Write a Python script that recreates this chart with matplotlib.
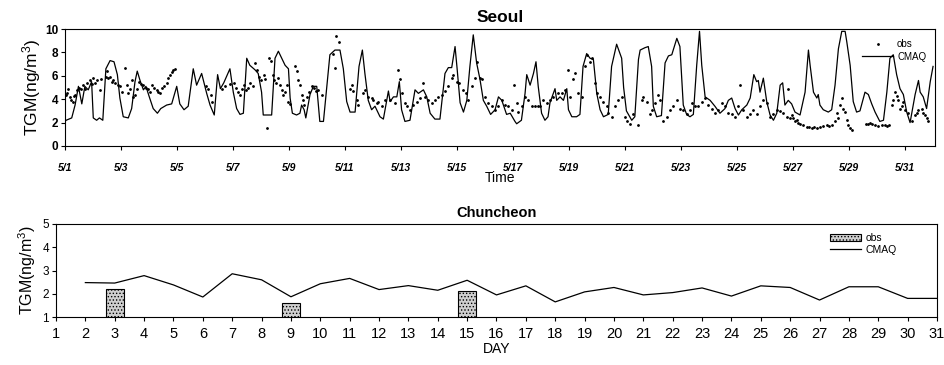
import matplotlib
matplotlib.use("Agg")
import matplotlib.pyplot as plt
from matplotlib.patches import Patch
from matplotlib.lines import Line2D

plt.rcParams['font.family'] = ['Liberation Sans', 'DejaVu Sans']
plt.rcParams['mathtext.default'] = 'regular'
plt.rcParams['hatch.linewidth'] = 0.6

# ---- Seoul (hourly), time in days after 5/1 00:00 ----
seoul_ticks = ['5/1', '5/3', '5/5', '5/7', '5/9', '5/11', '5/13', '5/15',
               '5/17', '5/19', '5/21', '5/23', '5/25', '5/27', '5/29', '5/31']

cmaq_day = [0.0, 0.04, 0.24, 0.36, 0.48, 0.6, 0.71, 0.83, 0.95, 1.01, 1.13, 1.23, 1.35, 1.46, 1.61,
            1.75, 1.87, 1.96, 2.08, 2.26, 2.38, 2.5, 2.58, 2.68, 2.8, 2.89, 3.01, 3.15, 3.3, 3.42,
            3.63, 3.81, 3.99, 4.1, 4.25, 4.4, 4.58, 4.7, 4.88, 5.06, 5.18, 5.33, 5.45, 5.55, 5.67,
            5.89, 6.01, 6.13, 6.25, 6.37, 6.49, 6.6, 6.79, 6.9, 7.02, 7.08, 7.38, 7.5, 7.62, 7.74,
            7.86, 7.98, 8.04, 8.12, 8.27, 8.39, 8.45, 8.54, 8.6, 8.75, 8.87, 8.99, 9.1, 9.23, 9.46,
            9.64, 9.82, 9.94, 10.06, 10.18, 10.36, 10.5, 10.62, 10.71, 10.83, 10.95, 11.07, 11.13,
            11.25, 11.37, 11.55, 11.61, 11.73, 11.85, 11.94, 12.02, 12.14, 12.32, 12.5, 12.62,
            12.8, 12.92, 13.04, 13.21, 13.39, 13.57, 13.69, 13.81, 13.93, 14.0, 14.11, 14.23,
            14.35, 14.46, 14.58, 14.7, 14.82, 14.94, 15.06, 15.2, 15.36, 15.48, 15.6, 15.77, 15.9,
            16.07, 16.13, 16.3, 16.43, 16.49, 16.61, 16.73, 16.82, 16.9, 17.02, 17.14, 17.25,
            17.32, 17.5, 17.56, 17.68, 17.8, 17.92, 17.98, 18.1, 18.27, 18.39, 18.5, 18.63,
            18.75, 18.87, 18.99, 19.11, 19.23, 19.4, 19.52, 19.7, 19.88, 19.95, 20.05, 20.12,
            20.24, 20.35, 20.48, 20.54, 20.71, 20.83, 20.95, 21.01, 21.13, 21.3, 21.43, 21.55,
            21.67, 21.85, 21.96, 22.08, 22.2, 22.32, 22.44, 22.56, 22.66, 22.74, 22.86, 23.04,
            23.21, 23.39, 23.57, 23.69, 23.81, 23.93, 24.05, 24.17, 24.35, 24.47, 24.6, 24.7,
            24.76, 24.82, 24.94, 25.06, 25.18, 25.3, 25.42, 25.54, 25.63, 25.71, 25.83, 25.95,
            26.07, 26.25, 26.43, 26.55, 26.61, 26.73, 26.85, 26.9, 26.96, 27.08, 27.26, 27.38,
            27.5, 27.62, 27.74, 27.86, 27.92, 28.04, 28.15, 28.27, 28.39, 28.57, 28.69, 28.81,
            28.93, 29.1, 29.23, 29.35, 29.46, 29.58, 29.7, 29.82, 29.94, 30.06, 30.18, 30.36,
            30.48, 30.54, 30.65, 30.77, 30.9, 31.0]
cmaq_val = [2.1, 2.2, 2.4, 3.5, 5.1, 3.6, 5.1, 4.8, 5.5, 2.4, 2.2, 2.4, 2.2, 6.6, 7.3,
            7.2, 6.1, 4.1, 2.5, 2.4, 3.2, 5.5, 6.4, 5.6, 4.8, 5.1, 4.2, 3.2, 2.8, 3.2,
            3.5, 3.6, 5.1, 3.6, 3.1, 3.4, 6.6, 5.2, 6.2, 4.5, 3.5, 2.65, 6.1, 4.9, 5.4,
            6.6, 4.6, 3.2, 2.7, 2.8, 7.5, 6.9, 6.5, 6.2, 4.6, 2.65, 2.65, 7.5, 8.1, 7.5,
            6.9, 6.6, 4.1, 2.8, 2.65, 2.8, 3.5, 3.1, 2.4, 4.4, 5.1, 5.1, 2.1, 2.1, 7.8,
            8.2, 8.2, 6.6, 3.8, 2.9, 2.9, 6.8, 8.2, 6.2, 3.9, 3.1, 3.4, 3.1,
            2.5, 2.3, 4.7, 3.8, 4.2, 4.2, 5.5, 3.1, 2.1, 2.2, 4.8, 4.5,
            4.8, 4.2, 2.8, 2.3, 2.3, 6.2, 6.7, 6.7, 8.5, 6.7, 3.7, 2.9,
            3.9, 6.8, 9.5, 7.1, 5.7, 3.9, 3.4, 2.7, 3.1, 4.2, 3.9, 2.7, 2.8,
            2.1, 1.9, 2.2, 4.5, 6.1, 5.2, 6.2, 7.2, 5.1, 2.8, 2.2, 2.5,
            3.7, 4.9, 3.9, 4.2, 3.9, 4.9, 3.1, 2.5, 2.5, 2.7, 6.8, 7.9,
            7.5, 7.4, 4.5, 3.1, 2.5, 2.7, 6.8, 8.7, 7.5, 5.0, 3.0, 2.7,
            2.2, 2.5, 7.4, 8.2, 8.4, 8.5, 6.8, 3.4, 2.5, 2.6, 7.1, 7.7,
            7.8, 9.2, 8.5, 3.5, 2.7, 2.5, 2.7, 6.9, 9.8, 6.9, 4.2, 3.9,
            3.4, 2.8, 3.2, 3.9, 4.1, 3.2, 2.65, 3.1, 3.5, 4.1, 6.1, 5.5,
            5.6, 4.6, 5.8, 3.8, 2.65, 2.2, 2.8, 5.2, 5.4, 3.5, 3.9, 3.6,
            2.9, 2.65, 4.6, 8.2, 6.9, 4.6, 4.1, 4.4, 3.5, 3.1, 2.9, 3.1,
            5.2, 8.3, 9.8, 9.8, 8.9, 6.9, 3.8, 2.9, 3.0, 4.6, 4.4, 3.6,
            2.9, 2.1, 2.2, 4.6, 7.5, 7.8, 6.1, 4.9, 4.4, 2.9, 2.0, 4.4,
            5.6, 4.6, 4.2, 3.2, 5.5, 6.8]

obs_day = [0.02, 0.08, 0.12, 0.18, 0.22, 0.27, 0.32, 0.36, 0.44, 0.5, 0.56, 0.65, 0.72, 0.8, 0.89,
           0.95, 1.01, 1.08, 1.15, 1.25, 1.3, 1.45, 1.49, 1.55, 1.6, 1.67, 1.72, 1.8, 1.88, 1.96,
           2.05, 2.14, 2.2, 2.26, 2.32, 2.38, 2.44, 2.5, 2.58, 2.65, 2.72, 2.8, 2.88, 2.98, 3.05,
           3.1, 3.18, 3.27, 3.33, 3.39, 3.48, 3.55, 3.63, 3.69, 3.75, 3.81, 3.87, 3.93,
           5.05, 5.12, 5.2, 5.26, 5.6, 5.7, 5.9, 6.05, 6.12, 6.19, 6.25, 6.32, 6.4, 6.48, 6.55,
           6.62, 6.7, 6.79, 6.85, 6.92, 7.0, 7.1, 7.15, 7.2, 7.3, 7.35, 7.42, 7.48, 7.55, 7.6,
           7.68, 7.75, 7.8, 7.86, 7.92, 7.98, 8.05, 8.21, 8.27, 8.33, 8.4, 8.45, 8.5, 8.55, 8.65,
           8.72, 8.81, 8.9, 8.96, 9.05, 9.17,
           9.58, 9.64, 9.68, 9.8, 10.18, 10.24, 10.3, 10.42, 10.48, 10.65, 10.71, 10.83, 10.95,
           11.01, 11.13, 11.19, 11.31, 11.43, 11.61, 11.79, 11.9, 11.96, 12.02, 12.14, 12.2,
           12.32, 12.44, 12.56, 12.68, 12.8, 12.86, 12.98, 13.1, 13.21, 13.33, 13.45, 13.57,
           13.69, 13.81, 13.87, 14.0, 14.06, 14.2, 14.32, 14.4, 14.52, 14.64, 14.7, 14.82, 14.88,
           15.0, 15.12, 15.24, 15.36, 15.48, 15.6, 15.71, 15.83, 15.95, 16.04, 16.13, 16.19,
           16.31, 16.43, 16.55, 16.67, 16.79, 16.9, 16.96, 17.08, 17.2, 17.32, 17.44, 17.62,
           17.74, 17.86, 17.98, 18.04, 18.15, 18.2, 18.33, 18.45, 18.57, 18.63, 18.75, 18.81,
           18.93, 18.99, 19.11, 19.23, 19.35, 19.4, 19.52, 19.64, 19.76, 19.88, 20.0,
           20.06, 20.18, 20.3, 20.48, 20.6, 20.65, 20.77, 20.89, 20.95, 21.07, 21.19, 21.25,
           21.37, 21.49, 21.61, 21.73, 21.85, 21.96, 22.08, 22.2, 22.32, 22.38, 22.5, 22.62,
           22.74, 22.86, 22.98, 23.1, 23.21, 23.33, 23.45, 23.57, 23.69, 23.81, 23.93, 24.05,
           24.11, 24.23, 24.35, 24.47, 24.58, 24.7, 24.82, 24.94, 25.06, 25.18, 25.3, 25.42,
           25.54, 25.65, 25.77, 25.83, 25.89, 25.95, 26.01, 26.07, 26.13, 26.19, 26.25, 26.37,
           26.49, 26.58, 26.67, 26.76, 26.85, 26.96, 27.08, 27.2, 27.3, 27.38, 27.5, 27.56,
           27.62, 27.68, 27.74, 27.8, 27.86, 27.92, 27.98, 28.04, 28.1, 28.6, 28.69, 28.75,
           28.81, 28.93, 29.05, 29.17, 29.29, 29.35, 29.41, 29.52, 29.58, 29.64, 29.7, 29.76,
           29.82, 29.88, 29.94, 30.0, 30.12, 30.24, 30.36, 30.42, 30.48, 30.6, 30.65, 30.71,
           30.77, 30.83]
obs_val = [4.4, 4.5, 4.9, 4.2, 3.9, 3.8, 4.3, 4.4, 4.8, 5.0, 4.9, 5.2, 4.9, 5.4, 5.6,
           5.3, 5.8, 5.4, 5.6, 4.8, 5.7, 5.9, 6.4, 5.8, 5.9, 5.5, 5.6, 5.4, 5.2, 5.1,
           4.6, 6.7, 5.2, 4.5, 4.9, 5.6, 4.2, 4.4, 4.9, 5.5, 5.3, 5.2, 5.0, 4.9, 4.6,
           5.2, 5.0, 4.8, 4.6, 4.5, 5.0, 5.1, 5.4, 5.8, 6.1, 6.3, 6.5, 6.6,
           5.1, 4.9, 4.4, 3.8, 4.9, 5.1, 5.3, 5.4, 5.0, 4.6, 4.4, 4.9, 5.2, 4.8, 5.0,
           5.4, 5.1, 7.1, 6.5, 5.9, 5.6, 6.1, 5.7, 1.5, 7.5, 7.3, 6.1, 5.6, 5.4, 5.8,
           5.2, 4.8, 4.4, 4.6, 5.2, 3.8, 3.6, 6.8, 6.4, 5.6, 5.2, 4.4, 3.9, 3.5, 4.2,
           4.6, 5.1, 5.0, 4.7, 4.8, 4.4,
           7.9, 6.7, 9.4, 8.9, 4.9, 5.2, 4.7, 3.9, 3.5, 4.5, 4.8, 4.2, 4.1,
           3.9, 3.7, 3.8, 3.4, 3.9, 3.9, 3.7, 6.5, 5.7, 4.5, 3.7, 3.4,
           3.1, 3.5, 3.8, 4.1, 5.4, 4.2, 3.9, 3.7, 3.9, 4.2, 4.4, 4.7,
           5.1, 5.8, 6.1, 5.5, 5.4, 4.8, 4.5, 3.9, 5.1, 5.8, 7.2, 5.8, 5.7,
           4.2, 3.7, 3.4, 3.1, 3.4, 3.9, 3.5, 3.4, 3.1, 5.2, 3.7, 2.9,
           3.4, 4.2, 3.9, 3.4, 3.4, 3.4, 3.4, 3.9, 3.7, 3.9, 4.2, 4.5,
           4.5, 4.8, 6.5, 4.2, 5.7, 6.2, 4.5, 4.2, 6.8, 7.8, 7.2, 7.5,
           5.4, 4.5, 4.2, 3.8, 3.4, 2.8, 2.5, 3.4, 3.9, 4.2, 2.5,
           2.1, 1.9, 2.7, 1.8, 3.9, 4.2, 3.8, 2.7, 3.1, 3.7, 4.4, 3.9,
           2.1, 2.5, 3.1, 3.4, 3.9, 3.2, 3.1, 2.7, 3.1, 3.7, 3.4, 3.4,
           3.8, 4.1, 3.5, 3.2, 2.8, 3.1, 3.7, 3.4, 2.8, 2.7, 2.5, 3.4,
           5.2, 3.1, 2.5, 2.7, 3.1, 2.7, 3.4, 3.9, 3.7, 2.5, 2.7, 3.1,
           3.0, 2.8, 2.5, 4.9, 2.4, 2.65, 2.4, 2.1, 2.2, 2.0, 1.9, 1.8,
           1.6, 1.6, 1.5, 1.6, 1.5, 1.6, 1.7, 1.8, 1.7, 1.8, 2.1, 2.8,
           2.4, 3.5, 4.1, 3.2, 2.9, 2.2, 1.8, 1.5, 1.4, 1.9, 1.9, 2.0,
           1.9, 1.8, 1.7, 1.8, 1.8, 1.7, 1.8, 3.5, 3.9, 4.6, 4.3, 3.9,
           3.2, 3.4, 3.8, 3.1, 2.8, 2.1, 2.65, 2.8, 3.1, 3.2, 2.8, 2.65,
           2.4, 2.1]

# ---- Chuncheon (daily) ----
chun_day = list(range(1, 32))
chun_cmaq_day = list(range(2, 32))
chun_cmaq = [2.48, 2.46, 2.78, 2.38, 1.86, 2.86, 2.6, 1.87, 2.43, 2.66, 2.18, 2.35, 2.15, 2.58,
             1.95, 2.34, 1.65, 2.08, 2.27, 1.95, 2.05, 2.25, 1.9, 2.34, 2.27, 1.73, 2.3, 2.3,
             1.8, 1.8]
chun_obs_day = [3, 9, 15]
chun_obs = [2.22, 1.59, 2.12]

fig = plt.figure(figsize=(9.45, 3.65), dpi=100)

# top panel
ax1 = fig.add_axes([65 / 945, 1 - 146 / 365, 870 / 945, 117 / 365])
ax1.plot(cmaq_day, cmaq_val, color='black', lw=0.9)
ax1.plot(obs_day, obs_val, ls='none', marker='.', ms=2.0, color='black')
ax1.set_xlim(0, 31.07)
ax1.set_ylim(0, 10)
ax1.set_xticks(range(0, 31, 2))
ax1.set_xticklabels(seoul_ticks, fontsize=7.5, style='italic', weight='bold')
ax1.set_yticks([0, 2, 4, 6, 8, 10])
ax1.tick_params(axis='y', labelsize=8.5, length=3, pad=2)
ax1.tick_params(axis='x', length=3, pad=9)
for t in ax1.get_yticklabels():
    t.set_fontweight('bold')
ax1.set_ylabel('TGM(ng/m$^3$)', fontsize=12.5, labelpad=1)
ax1.set_xlabel('Time', fontsize=10, labelpad=-1)
ax1.set_title('Seoul', fontsize=12.5, fontweight='bold', pad=5)
h1 = [Line2D([], [], ls='none', marker='.', ms=2.0, color='black'),
      Line2D([], [], color='black', lw=0.9)]
ax1.legend(h1, ['obs', 'CMAQ'], loc='upper right', bbox_to_anchor=(1.0, 0.99),
           frameon=False, fontsize=7, handlelength=3.2, labelspacing=0.3,
           handletextpad=0.4, numpoints=1)

# bottom panel
ax2 = fig.add_axes([56 / 945, 1 - 317 / 365, 881 / 945, 93 / 365])
ax2.bar(chun_obs_day, chun_obs, width=0.6, facecolor='#cfcfcf', edgecolor='black',
        hatch='.....', linewidth=0.8)
ax2.plot(chun_cmaq_day, chun_cmaq, color='black', lw=0.9)
ax2.set_xlim(1, 31)
ax2.set_ylim(1, 5)
ax2.set_xticks(chun_day)
ax2.set_yticks([1, 2, 3, 4, 5])
ax2.tick_params(axis='x', labelsize=10.5, length=3, pad=4)
ax2.tick_params(axis='y', labelsize=8.5, length=3, pad=2)
ax2.set_ylabel('TGM(ng/m$^3$)', fontsize=11.5, labelpad=3)
ax2.set_xlabel('DAY', fontsize=10, labelpad=1)
ax2.set_title('Chuncheon', fontsize=10.5, fontweight='bold', pad=5)
h2 = [Patch(facecolor='#cfcfcf', edgecolor='black', hatch='.....', linewidth=0.8),
      Line2D([], [], color='black', lw=0.9)]
ax2.legend(h2, ['obs', 'CMAQ'], loc='upper right', bbox_to_anchor=(0.965, 1.0),
           frameon=False, fontsize=7.5, handlelength=3.0, handleheight=0.7,
           labelspacing=0.15, handletextpad=0.4)

fig.savefig('out.png', dpi=100)
